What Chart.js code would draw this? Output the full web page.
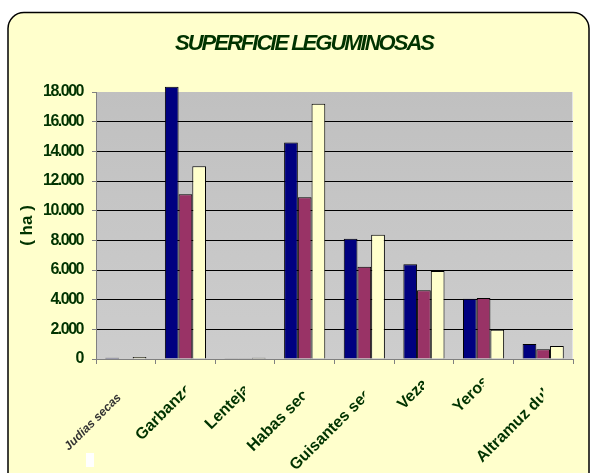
<!DOCTYPE html>
<html>
<head>
<meta charset="utf-8">
<script src="https://cdn.jsdelivr.net/npm/chart.js@4/dist/chart.umd.min.js"></script>
<style>
  html, body { margin: 0; padding: 0; background: #ffffff; }
  #wrap { width: 592px; height: 473px; position: relative; }
</style>
</head>
<body>
<div id="wrap"><canvas id="chart" width="592" height="473"></canvas></div>
<script>
const categories = ["Judias secas", "Garbanzo", "Lentejas", "Habas secas", "Guisantes secos", "Veza", "Yeros", "Altramuz dulce"];
const serieA = [80, 18350, 50, 14600, 8100, 6380, 4070, 1010];
const serieB = [30, 11100, 20, 10900, 6220, 4630, 4110, 650];
const serieC = [130, 13000, 80, 17200, 8380, 5930, 1980, 880];
const yTicks = [0, 2000, 4000, 6000, 8000, 10000, 12000, 14000, 16000, 18000];
const yTitle = "( ha )";
const chartTitle = "SUPERFICIE LEGUMINOSAS";

const TEXT_GREEN = "#003300";
// where each rotated category label starts (offset from category centre, baseline y)
const labelStart = [[-57, 451], [-44, 441], [-34, 430], [-51.5, 452], [-68.5, 471], [-20.5, 410], [-24.5, 413], [-61, 463]];

function fmt(v) {
  return String(v).replace(/\B(?=(\d{3})+(?!\d))/g, ".");
}

const frame = {
  id: "frame",
  beforeDraw(chart) {
    const { ctx, chartArea: a } = chart;
    ctx.save();
    ctx.fillStyle = "#ffffff";
    ctx.fillRect(0, 0, chart.width, chart.height);
    ctx.beginPath();
    ctx.roundRect(8, 12.5, 581, 490, 16);
    ctx.fillStyle = "#ffffcc";
    ctx.fill();
    ctx.lineWidth = 1.5;
    ctx.strokeStyle = "#000000";
    ctx.stroke();

    const g = ctx.createLinearGradient(0, a.top, 0, a.bottom);
    g.addColorStop(0, "#c0c0c0");
    g.addColorStop(1, "#cdcdcd");
    ctx.fillStyle = g;
    ctx.fillRect(a.left, a.top, a.right - a.left, a.bottom - a.top);
    ctx.fillStyle = "#e4e4e4";
    ctx.fillRect(a.right - 1, a.top, 1, a.bottom - a.top);

    ctx.letterSpacing = "-2px";
    ctx.font = "italic bold 22px Arial";
    ctx.fillStyle = TEXT_GREEN;
    ctx.textAlign = "center";
    ctx.textBaseline = "alphabetic";
    ctx.fillText(chartTitle, 304, 50);

    ctx.letterSpacing = "0px";
    ctx.translate(27, (a.top + a.bottom) / 2);
    ctx.rotate(-Math.PI / 2);
    ctx.font = "bold 17px Arial";
    ctx.textBaseline = "middle";
    ctx.fillText(yTitle, 0, 0);
    ctx.setTransform(1, 0, 0, 1, 0, 0);

    ctx.fillStyle = "#ffffff";
    ctx.fillRect(86, 453, 8, 14);
    ctx.restore();
    ctx.letterSpacing = "-1.5px";
  },
  afterDraw(chart) {
    const { ctx } = chart;
    const x = chart.scales.x;
    ctx.save();
    ctx.letterSpacing = "0px";
    categories.forEach((name, i) => {
      const cx = x.getPixelForValue(i);
      const [dx, by] = labelStart[i];
      ctx.save();
      ctx.beginPath();
      ctx.rect(0, chart.chartArea.bottom + 6, cx, chart.height);
      ctx.clip();
      ctx.translate(cx + dx, by);
      ctx.rotate(-Math.PI / 4);
      if (i === 0) {
        ctx.font = "italic bold 12px Arial";
        ctx.fillStyle = "#333333";
      } else {
        ctx.font = "bold 16px Arial";
        ctx.fillStyle = TEXT_GREEN;
      }
      ctx.textAlign = "left";
      ctx.textBaseline = "alphabetic";
      ctx.fillText(name, 0, 0);
      ctx.restore();
    });
    ctx.restore();
  }
};

const barStyle = { borderColor: "#000000", borderWidth: 1, clip: false };

new Chart(document.getElementById("chart"), {
  type: "bar",
  data: {
    labels: categories,
    datasets: [
      { label: "A", data: serieA, backgroundColor: "#000080", ...barStyle },
      { label: "B", data: serieB, backgroundColor: "#993366", ...barStyle },
      { label: "C", data: serieC, backgroundColor: "#ffffcc", ...barStyle }
    ]
  },
  options: {
    responsive: false,
    animation: false,
    events: [],
    layout: { padding: { top: 92, right: 19, left: 0, bottom: 0 } },
    datasets: { bar: { categoryPercentage: 0.69, barPercentage: 1 } },
    plugins: {
      legend: { display: false },
      title: { display: false },
      tooltip: { enabled: false }
    },
    scales: {
      x: {
        afterFit(scale) { scale.height = 114; },
        ticks: { display: false },
        grid: { drawOnChartArea: false, drawTicks: true, tickLength: 5, color: "#808080" },
        border: { color: "#808080", width: 1 }
      },
      y: {
        min: 0,
        max: 18000,
        afterFit(scale) { scale.width = 96; },
        afterBuildTicks(scale) { scale.ticks = yTicks.map(v => ({ value: v })); },
        ticks: {
          callback: v => fmt(v),
          color: TEXT_GREEN,
          font: { family: "Arial", size: 16, weight: "bold" },
          padding: 9
        },
        grid: {
          color: c => (c.tick && c.tick.value === 18000 ? "rgba(0,0,0,0)" : "#000000"),
          tickColor: "#808080",
          tickLength: 4
        },
        border: { color: "#808080", width: 1 }
      }
    }
  },
  plugins: [frame]
});
</script>
</body>
</html>
